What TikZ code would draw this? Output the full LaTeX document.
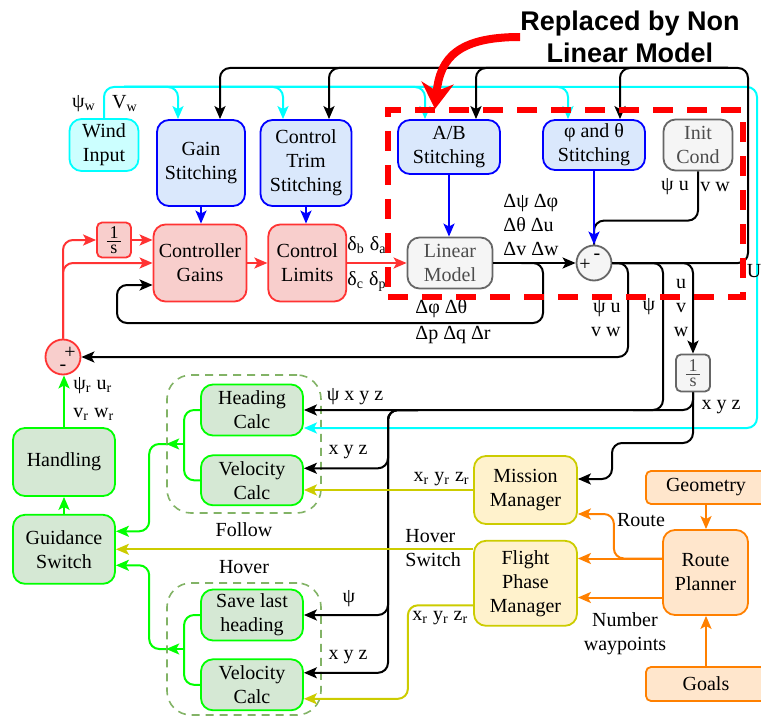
\documentclass[tikz,border=0pt]{standalone}
\usepackage{amsmath}
\usepackage{fontspec}
\setmainfont{Liberation Serif}
\newfontfamily\titlefont{Liberation Sans}
\usepackage{tikz}
\usetikzlibrary{arrows.meta, positioning, calc}

\definecolor{cyanFill}{HTML}{CCFFFF}
\definecolor{cyanDraw}{HTML}{00FFFF}
\definecolor{blueFill}{HTML}{DAE8FC}
\definecolor{blueDraw}{HTML}{0000FF}
\definecolor{redFill}{HTML}{F8CECC}
\definecolor{redDraw}{HTML}{FF3333}
\definecolor{grayFill}{HTML}{F5F5F5}
\definecolor{grayDraw}{HTML}{666666}
\definecolor{grayText}{HTML}{4D4D4D}
\definecolor{greenFill}{HTML}{D5E8D4}
\definecolor{greenDraw}{HTML}{00FF00}
\definecolor{yelFill}{HTML}{FFF2CC}
\definecolor{yelDraw}{HTML}{CCCC00}
\definecolor{orgFill}{HTML}{FFE6CC}
\definecolor{orgDraw}{HTML}{FF8000}
\definecolor{grpDraw}{HTML}{82B366}

\newcommand{\integ}{$\frac{\,\text{\small 1}\,}{\text{\small s}}$}

\tikzstyle{block}=[rectangle, rounded corners=6pt, line width=0.9pt, align=center, inner sep=1pt]
\tikzstyle{cyanbox}=[block, draw=cyanDraw, fill=cyanFill]
\tikzstyle{bluebox}=[block, draw=blueDraw, fill=blueFill]
\tikzstyle{redbox}=[block, draw=redDraw, fill=redFill]
\tikzstyle{graybox}=[block, draw=grayDraw, fill=grayFill, text=grayText]
\tikzstyle{greenbox}=[block, draw=greenDraw, fill=greenFill]
\tikzstyle{yelbox}=[block, draw=yelDraw, fill=yelFill]
\tikzstyle{orgbox}=[block, draw=orgDraw, fill=orgFill]
\tikzstyle{tiny}=[rounded corners=2.5pt, inner sep=0pt]
\tikzstyle{grpbox}=[rectangle, draw=grpDraw, dashed, dash pattern=on 4pt off 3pt, line width=0.8pt, rounded corners=12pt]
\tikzstyle{nlmbox}=[rectangle, draw=red, line width=3pt, dash pattern=on 10pt off 7pt]
\tikzstyle{title}=[font=\titlefont\bfseries\fontsize{13.5}{16}\selectfont, align=center, inner sep=0pt]
\tikzstyle{lbl}=[inner sep=0pt]
\tikzstyle{blk}=[draw=black, line width=1pt, rounded corners=5pt]
\tikzstyle{cyanline}=[draw=cyanDraw, line width=1pt, rounded corners=5pt]
\tikzstyle{blu}=[draw=blueDraw, line width=1pt]
\tikzstyle{redline}=[draw=redDraw, line width=1pt, rounded corners=5pt]
\tikzstyle{yelline}=[draw=yelDraw, line width=1pt, rounded corners=5pt]
\tikzstyle{orgline}=[draw=orgDraw, line width=1pt, rounded corners=5pt]
\tikzstyle{grnline}=[draw=greenDraw, line width=1pt, rounded corners=5pt]
\tikzstyle{bigarrow}=[draw=red, line width=4pt, -{Stealth[length=13pt,width=16pt,inset=4pt]}]

\begin{document}
\begin{tikzpicture}[x=0.5pt, y=-0.5pt, font=\fontsize{10}{12}\selectfont,
    >={Stealth[length=6.5pt,width=5.5pt,inset=1.5pt]}]
    \useasboundingbox (0,0) rectangle (761,717);

    % stitching blocks
    \node (wind) [cyanbox, minimum width=34.5pt, minimum height=26pt] at (104,145) {Wind\\Input};
    \node (gain) [bluebox, minimum width=44pt, minimum height=43pt] at (201,163) {Gain\\Stitching};
    \node (trim) [bluebox, minimum width=45.5pt, minimum height=43pt] at (306,163) {Control\\Trim\\Stitching};
    \node (ab) [bluebox, minimum width=51pt, minimum height=27pt] at (449,147) {A/B\\Stitching};
    \node (phth) [bluebox, minimum width=51pt, minimum height=25pt] at (594,145) {φ and θ\\Stitching};
    \node (init) [graybox, minimum width=34.5pt, minimum height=25.5pt] at (698,145) {Init\\Cond};

    % control loop
    \node (gains) [redbox, minimum width=46.5pt, minimum height=38.5pt] at (200,263) {Controller\\Gains};
    \node (lim) [redbox, minimum width=39pt, minimum height=38.5pt, right=10pt of gains] {Control\\Limits};
    \node (integ) [redbox, tiny, minimum width=17pt, minimum height=17.5pt] at (114,240) {\integ};
    \node (sumB) [redbox, circle, minimum size=17.5pt] at (63,357) {};
    \node (lin) [graybox, minimum width=42.5pt, minimum height=25.5pt] at (450,263) {Linear\\Model};
    \node (sumA) [graybox, circle, minimum size=17.5pt] at (594,263) {};
    \node (pos) [graybox, tiny, minimum width=17pt, minimum height=18.5pt] at (693,373) {\integ};

    % guidance
    \node (hand) [greenbox, minimum width=51pt, minimum height=34pt] at (64,462) {Handling};
    \node (guid) [greenbox, minimum width=51pt, minimum height=34.5pt, below=8.5pt of hand] {Guidance\\Switch};
    \node (follow) [grpbox, minimum width=77pt, minimum height=69pt] at (244,444) {};
    \node (hover) [grpbox, minimum width=77pt, minimum height=66pt] at (244,649) {};
    \node (hcalc) [greenbox, minimum width=51pt, minimum height=25.5pt] at (252,410) {Heading\\Calc};
    \node (vcalc1) [greenbox, minimum width=51pt, minimum height=25pt, below=9pt of hcalc] {Velocity\\Calc};
    \node (save) [greenbox, minimum width=51pt, minimum height=25.5pt] at (252,615) {Save last\\heading};
    \node (vcalc2) [greenbox, minimum width=51pt, minimum height=25.5pt, below=8.5pt of save] {Velocity\\Calc};
    \node [lbl, below=4pt of follow] {Follow};
    \node [lbl, above=4pt of hover] {Hover};

    % mission planning
    \node (mission) [yelbox, minimum width=51.5pt, minimum height=34pt] at (525.5,490) {Mission\\Manager};
    \node (fpm) [yelbox, minimum width=51.5pt, minimum height=42.5pt, below=7.5pt of mission] {Flight\\Phase\\Manager};
    \node (route) [orgbox, minimum width=42.5pt, minimum height=42.5pt] at (705.5,572.5) {Route\\Planner};
    \node (geom) [orgbox, tiny, minimum width=60pt, minimum height=16.5pt] at (706,487.5) {Geometry};
    \node (goals) [orgbox, tiny, minimum width=60pt, minimum height=17pt] at (706,684) {Goals};

    % wind (cyan)
    \coordinate (cyR) at (757,87);
    \coordinate (cyL) at (124,87);
    \draw[cyanline,->] (wind.north) |- (cyR) |- ($(hcalc.east)+(0,18)$);
    \draw[cyanline,->] (cyL) -| ($(gain.north)+(-23,0)$);
    \draw[cyanline,->] (cyL) -| ($(trim.north)+(-23,0)$);
    \draw[cyanline,->] (cyL) -| ($(ab.north)+(-24,0)$);
    \draw[cyanline,->] (cyL) -| ($(phth.north)+(-26,0)$);

    % U feedback
    \coordinate (bkR) at (748,68);
    \coordinate (bkT) at (728,68);
    \draw[blk,->] (sumA.east) -| (bkR) -| ($(gain.north)+(19,0)$);
    \draw[blk,->] (bkT) -| ($(trim.north)+(23,0)$);
    \draw[blk,->] (bkT) -| ($(ab.north)+(27,0)$);
    \draw[blk,->] (bkT) -| ($(phth.north)+(26,0)$);

    % stitching outputs
    \draw[blu,->] (gain.south) -- (gain.south |- gains.north);
    \draw[blu,->] (trim.south) -- (trim.south |- lim.north);
    \draw[blu,->] (ab.south) -- (ab.south |- lin.north);
    \draw[blk] (init.south) |- ($(sumA.north)+(0,-24)$) -- (sumA.north);
    \draw[blu,->] (phth.south) -- (sumA.north);

    % red loop
    \draw[redline,->] (gains.east) -- (lim.west);
    \draw[redline,->] (lim.east) -- (lin.west);
    \draw[redline,->] (sumB.north) |- (integ.west);
    \draw[redline,->] (sumB.north) |- (gains.west);
    \draw[redline,->] (integ.east) -- (integ.east -| gains.west);

    % model outputs
    \coordinate (fb1) at (543,323);
    \coordinate (fb2) at (117,285);
    \coordinate (fb3) at (628,357);
    \draw[blk,->] (lin.east) -- (sumA.west);
    \draw[blk,->] ($(lin.east)+(28,0)$) -| (fb1) -| (fb2) -- (fb2 -| gains.west);
    \draw[blk,->] (sumA.east) -| (fb3) -- (sumB.east);
    \coordinate (busR) at (663,410);
    \draw[blk] (sumA.east) -| (busR) -- ++(-30,0);
    \draw[blk,->] (sumA.east) -| (pos.north);
    \draw[blk,->] (pos.south) |- (hcalc.east);

    \coordinate (busL) at (388,410);
    \coordinate (busS) at (418,410);
    \coordinate (inV1) at ($(vcalc1.east)+(0,-12)$);
    \coordinate (inV2) at ($(vcalc2.east)+(0,-12)$);
    \draw[blk,->] (busS) -| (busL |- inV1) -- (inV1);
    \draw[blk,->] (busS) -| (busL |- save.east) -- (save.east);
    \draw[blk,->] (busS) -| (busL |- inV2) -- (inV2);
    \coordinate (mmJ) at (612,443);
    \draw[blk,->] (pos.south) |- (mmJ) |- ($(mission.east)+(0,-11)$);

    % references (yellow)
    \coordinate (inV2b) at ($(vcalc2.east)+(0,14)$);
    \draw[yelline,->] (mission.west) -- (mission.west -| vcalc1.east);
    \draw[yelline,->] (fpm.west |- guid.east) -- (guid.east);
    \draw[yelline,->] ($(fpm.west)+(0,22)$) -| ($(inV2b)+(104,0)$) -- (inV2b);

    % route (orange)
    \coordinate (rtA) at ($(route.west)+(0,-14)$);
    \coordinate (rtB) at ($(route.west)+(0,25)$);
    \draw[orgline,->] (geom.south) -- (geom.south |- route.north);
    \draw[orgline,->] (goals.north) -- (goals.north |- route.south);
    \draw[orgline,->] (rtA) -- (rtA -| fpm.east);
    \draw[orgline,->] (rtA) -| ($(mission.east)+(36,24)$) -- ($(mission.east)+(0,24)$);
    \draw[orgline,->] (rtB) -- (rtB -| fpm.east);

    % guidance (green)
    \draw[grnline,->] (hand.north) -- (hand.north |- sumB.south);
    \draw[grnline,->] (guid.north) -- (hand.south);
    \draw[grnline] (hcalc.west) -- ++(-16,0) |- (vcalc1.west);
    \draw[grnline,->] ($(follow.west)+(18,0)$) -- (follow.west);
    \draw[grnline,->] (follow.west) -- ++(-17,0) |- ($(guid.east)+(0,-18)$);
    \draw[grnline] (save.west) -- ++(-16,0) |- (vcalc2.west);
    \draw[grnline,->] ($(hover.west)+(18,0)$) -- (hover.west);
    \draw[grnline,->] (hover.west) -- ++(-17,0) |- ($(guid.east)+(0,16)$);

    % signs and labels
    \node[lbl] at ($(sumA)+(-9,2)$) {+};
    \node[lbl] at ($(sumA)+(3,-6)$) {-};
    \node[lbl] at ($(sumB)+(7,-4)$) {+};
    \node[lbl] at ($(sumB)+(0,11)$) {-};
    \node[lbl] at (84,104) {ψ\textsubscript{w}};
    \node[lbl] at (125,104) {V\textsubscript{w}};
    \node[lbl] at (367,245) {δ\textsubscript{b} δ\textsubscript{a}};
    \node[lbl] at (367,282) {δ\textsubscript{c} δ\textsubscript{p}};
    \node[lbl, align=left, anchor=west] at (503,225) {Δψ Δφ\\Δθ Δu\\Δv Δw};
    \node[lbl, anchor=west] at (415,309) {Δφ Δθ};
    \node[lbl, anchor=west] at (415,335) {Δp Δq Δr};
    \node[lbl, align=right, anchor=east] at (621,319) {ψ u\\v w};
    \node[lbl] at (649,307) {ψ};
    \node[lbl, align=center] at (681,308) {u\\v\\w};
    \node[lbl] at (754,271) {U};
    \node[lbl] at (675,187) {ψ u};
    \node[lbl] at (715,187) {v w};
    \node[lbl] at (721,407) {x y z};
    \node[lbl] at (355,397) {ψ x y z};
    \node[lbl] at (348,452) {x y z};
    \node[lbl] at (349,599) {ψ};
    \node[lbl] at (348,657) {x y z};
    \node[lbl, anchor=east] at (470,479) {x\textsubscript{r} y\textsubscript{r} z\textsubscript{r}};
    \node[lbl, anchor=west] at (412,618) {x\textsubscript{r} y\textsubscript{r} z\textsubscript{r}};
    \node[lbl, align=left, anchor=west] at (405,548) {Hover\\Switch};
    \node[lbl] at (641,520) {Route};
    \node[lbl, align=center] at (625,634) {Number\\waypoints};
    \node[lbl, anchor=west] at (73,386) {ψ\textsubscript{r} u\textsubscript{r}};
    \node[lbl, anchor=west] at (73,414) {v\textsubscript{r} w\textsubscript{r}};

    % non linear model
    \node (nlm) [nlmbox, minimum width=177.5pt, minimum height=93.5pt] at (565.5,203.5) {};
    \node (ttl) [title] at (630,37) {Replaced by Non\\Linear Model};
    \draw[bigarrow] (ttl.west) .. controls (458,37) and (440,58) .. ($(nlm.north west)+(50,2)$);
\end{tikzpicture}
\end{document}
